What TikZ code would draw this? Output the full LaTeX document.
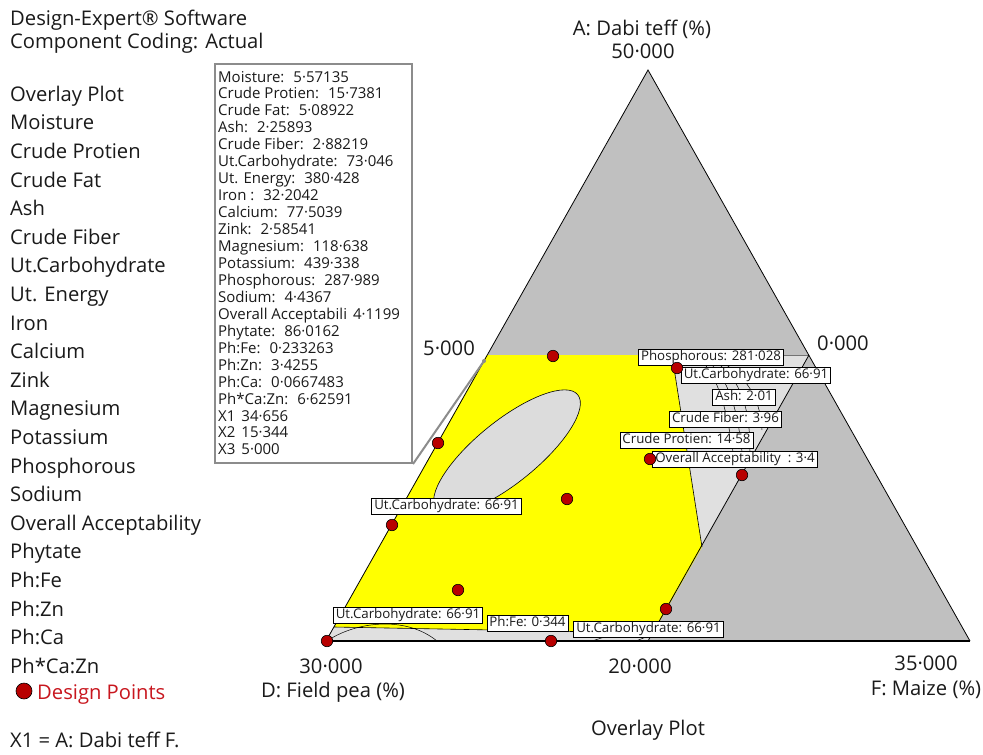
\documentclass[tikz,border=0pt]{standalone}
\usepackage{fontspec}
\setmainfont{Open Sans}
\definecolor{trigray}{HTML}{C0C0C0}
\definecolor{lgray}{HTML}{E0E0E0}
\definecolor{ellgray}{HTML}{DCDCDC}
\definecolor{ylw}{HTML}{FFFF00}
\definecolor{dpred}{HTML}{B80000}
\definecolor{dptxt}{HTML}{C8161E}
\definecolor{callgray}{HTML}{8C8C8C}
\definecolor{txt}{HTML}{1A1A1A}
\begin{document}
\begin{tikzpicture}[x=1pt,y=-1pt,
  every node/.style={inner sep=0pt},
  big/.style={font=\fontsize{20.2}{24}\selectfont, text=txt},
  cfont/.style={font=\fontsize{15}{17}\selectfont, text=txt},
  lbl/.style={draw=black, line width=0.7pt, fill=white, inner xsep=2.5pt, inner ysep=1.5pt,
    font=\fontsize{13.3}{14}\selectfont, text=txt, text height=9.7pt, text depth=3pt},
  dp/.style={circle, fill=dpred, draw=black, line width=0.6pt, minimum size=11.5pt},
  contour/.style={draw=black, line width=0.5pt}]
\useasboundingbox (0,0) rectangle (983,755);
\fill[white] (0,0) rectangle (983,755);

% main triangle and regions
\coordinate (apex) at (648,70);
\coordinate (bl) at (326,641);
\coordinate (br) at (970,641);
\coordinate (tl) at (487,355);
\coordinate (tr) at (809,355);
\coordinate (pb) at (648,641);
\fill[trigray] (apex) -- (br) -- (bl) -- cycle;
\fill[lgray] (tl) -- (tr) -- (pb) -- (bl) -- cycle;
\fill[ylw] (tl) -- (672,355) -- (702,547) -- (653,633) -- (334,627) -- cycle;
\draw[black, line width=0.6pt] (672,355) -- (702,547);
\draw[black, line width=0.6pt] (653,633) -- (334,627);
\draw[black!55, line width=0.8pt] (672,355) -- (tr);
\draw[black, line width=0.8pt] (tr) -- (pb);

% ellipse
\draw[fill=ellgray, line width=0.6pt, rotate around={39:(507,452)}] (507,452) ellipse [x radius=91, y radius=31];

% contour lines right region
\draw[contour] (703,362) .. controls (718,380) and (726,405) .. (733,452);
\draw[contour] (709,362) .. controls (728,380) and (737,405) .. (742,452);
\draw[contour] (716,362) .. controls (740,380) and (750,405) .. (750,452);
\draw[contour] (722,362) .. controls (750,380) and (760,400) .. (762,430);
% bottom strip contours
\draw[contour] (327,641) .. controls (355,622) and (405,615) .. (437,641);
\draw[contour] (592,641) -- (614,634);
\draw[contour] (636,641) -- (651,635);

% triangle outline
\draw[black, line width=0.8pt] (bl) -- (apex) -- (br);
\draw[black, line width=1.8pt] (bl) -- (br);

% contour labels
\node[lbl] (lPh) at (711,357.5) {Phosphorous: 281·028};
\node[lbl] (lUC1) at (756,375.5) {Ut.Carbohydrate: 66·91};
\node[lbl] (lAsh) at (744,397.5) {Ash: 2·01};
\node[lbl] (lCF) at (725.5,419) {Crude Fiber: 3·96};
\node[lbl] (lCP) at (686.5,440.5) {Crude Protien: 14·58};
\node[lbl] (lOA) at (735,459.5) {Overall Acceptability\ \ : 3·4};
\node[lbl] (lUC2) at (446.5,506) {Ut.Carbohydrate: 66·91};
\node[lbl] (lUC3) at (408,615) {Ut.Carbohydrate: 66·91};
\node[lbl] (lFe) at (527.5,623.5) {Ph:Fe: 0·344};
\node[lbl] (lUC4) at (648.5,629) {Ut.Carbohydrate: 66·91};

% design points
\node[dp] (d1) at (553,356) {};
\node[dp] (d2) at (677,368) {};
\node[dp] (d3) at (438,443) {};
\node[dp] (d4) at (650,459) {};
\node[dp] (d5) at (742,475) {};
\node[dp] (d6) at (567,499) {};
\node[dp] (d7) at (392,525) {};
\node[dp] (d8) at (458,590) {};
\node[dp] (d9) at (666,609) {};
\node[dp] (d10) at (327,641) {};
\node[dp] (d11) at (551,641) {};

% callout
\node[draw=callgray, line width=2pt, fill=white, minimum width=197pt, minimum height=399pt, anchor=north west] (call) at (214,63) {};
\coordinate (ptr) at (484,361);
\draw[callgray, line width=2pt] (call.south east) -- (ptr);
\fill[callgray] (ptr) circle (2);
\foreach \t [count=\i from 0] in {
  {Moisture:\hspace{9pt}5·57135},
  {Crude Protien:\hspace{9pt}15·7381},
  {Crude Fat:\hspace{9pt}5·08922},
  {Ash:\hspace{9pt}2·25893},
  {Crude Fiber:\hspace{9pt}2·88219},
  {Ut.Carbohydrate:\hspace{9pt}73·046},
  {Ut. Energy:\hspace{9pt}380·428},
  {Iron :\hspace{9pt}32·2042},
  {Calcium:\hspace{9pt}77·5039},
  {Zink:\hspace{9pt}2·58541},
  {Magnesium:\hspace{9pt}118·638},
  {Potassium:\hspace{9pt}439·338},
  {Phosphorous:\hspace{9pt}287·989},
  {Sodium:\hspace{9pt}4·4367},
  {Overall Acceptabili\hspace{6pt}4·1199},
  {Phytate:\hspace{9pt}86·0162},
  {Ph:Fe:\hspace{9pt}0·233263},
  {Ph:Zn:\hspace{9pt}3·4255},
  {Ph:Ca:\hspace{9pt}0·0667483},
  {Ph*Ca:Zn:\hspace{9pt}6·62591},
  {X1\hspace{6pt}34·656},
  {X2\hspace{6pt}15·344},
  {X3\hspace{6pt}5·000}}
  \node[cfont, anchor=base west] (cl\i) at (218,{82+16.95*\i}) {\t};

% header and legend
\node[big, anchor=base west] (h1) at (10,25.5) {Design-Expert® Software};
\node[big, anchor=base west] (h2) at (10,48.5) {Component Coding: Actual};
\foreach \t [count=\i from 0] in {Overlay Plot, Moisture, Crude Protien, Crude Fat, Ash,
  Crude Fiber, Ut.Carbohydrate, Ut. Energy, Iron, Calcium, Zink, Magnesium, Potassium,
  Phosphorous, Sodium, Overall Acceptability, Phytate, Ph:Fe, Ph:Zn, Ph:Ca, Ph*Ca:Zn}
  \node[big, anchor=base west] (lg\i) at (10,{101.3+28.6*\i}) {\t};
\node[dp, minimum size=16pt] (lgdot) at (24,691) {};
\node[big, text=dptxt, anchor=base west] (lgdp) at (37,699) {Design Points};
\node[big, anchor=base west] (x1) at (10,747) {X1 = A: Dabi teff F.};

% axis labels
\node[big, anchor=base] (axA) at (642,35) {A: Dabi teff (\%)};
\node[big, anchor=base] (vA) at (643,58) {50·000};
\node[big, anchor=base east] (v5) at (475,355) {5·000};
\node[big, anchor=base west] (v0) at (817,350) {0·000};
\node[big, anchor=base] (v30) at (331,673) {30·000};
\node[big, anchor=base] (axD) at (333,697) {D: Field pea (\%)};
\node[big, anchor=base] (v20) at (640,673) {20·000};
\node[big, anchor=base] (v35) at (926,670) {35·000};
\node[big, anchor=base] (axF) at (926,695) {F: Maize (\%)};
\node[big, anchor=base] (title) at (648,735) {Overlay Plot};
\end{tikzpicture}
\end{document}
